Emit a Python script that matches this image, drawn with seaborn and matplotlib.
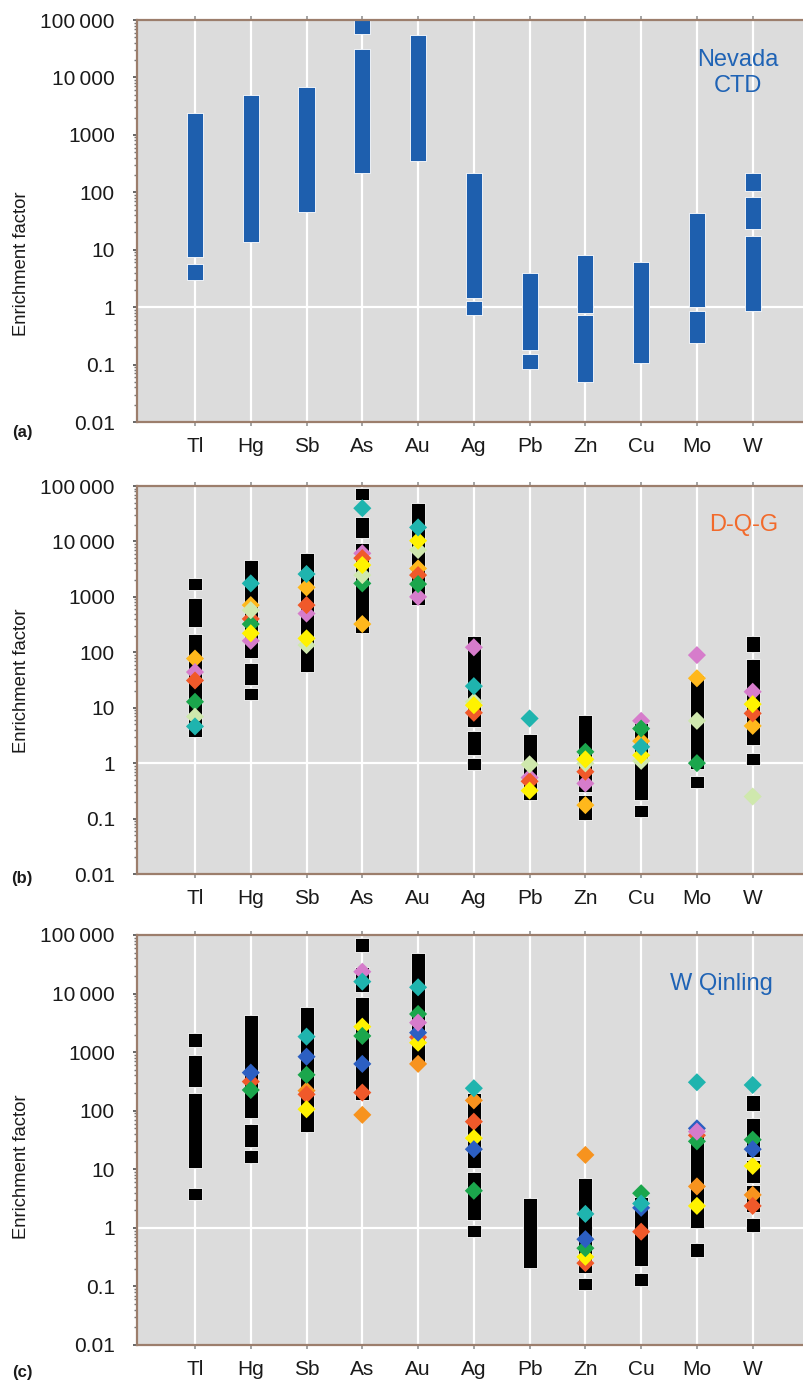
import matplotlib
matplotlib.use("Agg")
import matplotlib.pyplot as plt
from matplotlib.ticker import NullFormatter, LogLocator
import pandas as pd
import seaborn as sns

sns.set_theme(style="white")
plt.rcParams["font.family"] = ["Liberation Sans", "DejaVu Sans"]

ELEMENTS = ["Tl", "Hg", "Sb", "As", "Au", "Ag", "Pb", "Zn", "Cu", "Mo", "W"]
Y_TICKS = [0.01, 0.1, 1, 10, 100, 1000, 10000, 100000]
Y_TICK_LABELS = ["0.01", "0.1", "1", "10", "100", "1000", "10\u2009000", "100\u2009000"]

# ---- (a) Nevada CTD: enrichment ranges (segments) ----
nv_seg_elem = ["Tl", "Tl", "Hg", "Sb", "As", "As", "Au", "Ag", "Ag", "Pb", "Pb",
               "Zn", "Zn", "Cu", "Mo", "Mo", "W", "W", "W"]
nv_seg_low = [7.6, 3.0, 13.8, 44.8, 56000, 214, 355, 1.45, 0.73, 0.18, 0.083,
              0.78, 0.050, 0.105, 1.0, 0.24, 104, 22.6, 0.87]
nv_seg_high = [2370, 5.6, 4940, 6730, 100000, 30800, 54800, 219, 1.3, 3.88, 0.155,
               8.1, 0.72, 6.2, 43, 0.87, 219, 82, 17.3]

# ---- (b) D-Q-G: enrichment ranges ----
dqg_seg_elem = ["Tl", "Tl", "Tl", "Hg", "Hg", "Hg", "Sb", "As", "As", "As", "Au",
                "Ag", "Ag", "Ag", "Pb", "Zn", "Zn", "Cu", "Cu", "Mo", "Mo",
                "W", "W", "W"]
dqg_seg_low = [1320, 282, 3.0, 78, 25.6, 13.7, 44.5, 56000, 11400, 220, 710,
               4.5, 1.39, 0.75, 0.215, 0.30, 0.094, 0.215, 0.107, 0.80, 0.35,
               102, 2.1, 0.92]
dqg_seg_high = [2160, 940, 213, 4620, 63, 22.5, 6100, 91000, 28000, 9500, 48800,
                199, 3.8, 1.22, 3.4, 7.3, 0.264, 5.2, 0.175, 38.6, 0.58,
                199, 77, 1.54]

# ---- (b) D-Q-G: individual deposits (one value per element, None = no data) ----
dqg_gold = [77, 710, 1480, 323, 3250, None, None, 0.175, 2.5, 34, 4.7]
dqg_pink = [44, 161, 500, 6100, 1000, 123, 0.55, 0.43, 5.8, 89, 19.4]
dqg_red = [31, 400, 710, 5000, 2470, 8.1, 0.47, 0.70, None, None, 7.9]
dqg_green = [12.8, 323, None, 1750, 1700, None, None, 1.6, 4.2, 1.0, None]
dqg_pale = [6.9, 575, 135, 2470, 7000, 12.8, 0.95, 0.99, 1.1, 5.8, 0.25]
dqg_cyan = [4.6, 1750, 2580, 39700, 17900, 24.5, 6.4, None, 1.97, None, None]
dqg_yellow = [None, 220, 178, 3750, 10300, 11.1, 0.32, 1.17, 1.39, None, 11.6]

# ---- (c) W Qinling: enrichment ranges ----
wq_seg_elem = ["Tl", "Tl", "Tl", "Tl", "Hg", "Hg", "Hg", "Sb", "As", "As", "As", "Au",
               "Ag", "Ag", "Ag", "Pb", "Zn", "Zn", "Cu", "Cu", "Mo", "Mo",
               "W", "W", "W", "W", "W"]
wq_seg_low = [1240, 258, 10.4, 3.0, 74, 24.4, 12.7, 44, 52000, 10800, 153, 690,
              10.4, 1.37, 0.71, 0.205, 0.17, 0.087, 0.22, 0.10, 0.99, 0.32,
              97, 16.5, 5.8, 1.9, 0.86]
wq_seg_high = [2100, 900, 204, 4.75, 4300, 60, 21.4, 5840, 88000, 28700, 8850, 48600,
               200, 9.1, 1.12, 3.2, 7.0, 0.139, 3.4, 0.17, 41, 0.55,
               186, 74, 14.5, 5.4, 1.46]

# ---- (c) W Qinling: individual deposits ----
wq_cyan = [None, None, 1840, 16000, 12800, 242, None, 1.73, 2.6, 306, 275]
wq_blue = [None, 447, 836, 630, 2150, 22, None, 0.64, 2.2, 50, 22]
wq_green = [None, 226, 410, 1890, 4480, 4.3, None, 0.45, 3.9, 30, 32]
wq_orange = [None, None, 220, 85, 630, 150, None, 17.6, None, 5.1, 3.65]
wq_red = [None, 314, 190, 204, 1800, 65, None, 0.25, 0.86, 38, 2.37]
wq_yellow = [None, None, 106, 2720, 1450, 34, None, 0.32, None, 2.37, 11.4]
wq_pink = [None, None, None, 23600, 3190, None, None, None, None, 44, None]

COLORS = {
    "gold": "#ffb81c", "pink": "#d67ccb", "red": "#f0592a", "green": "#1ba64c",
    "pale": "#cfe8ad", "cyan": "#1fb4ae", "yellow": "#fff200", "blue": "#2c5fc2",
    "orange": "#f7931e",
}
BAR_BLUE = "#1e5fae"
SPINE = "#9c7e6c"
BG = "#dcdcdc"

FIG_W, FIG_H = 804, 1382
fig = plt.figure(figsize=(FIG_W / 100, FIG_H / 100), dpi=100)


def make_axes(top_px, bottom_px):
    left = 137 / FIG_W
    return fig.add_axes([left, 1 - bottom_px / FIG_H, 1.0 - left, (bottom_px - top_px) / FIG_H])


def style_axes(ax):
    ax.set_yscale("log")
    ax.set_ylim(0.01, 100000)
    ax.set_xlim(-1.04, 10.92)
    ax.set_facecolor(BG)
    ax.set_axisbelow(True)
    ax.set_xticks(range(len(ELEMENTS)))
    ax.set_xticklabels(ELEMENTS)
    ax.set_yticks(Y_TICKS)
    ax.set_yticklabels(Y_TICK_LABELS)
    ax.yaxis.set_minor_locator(LogLocator(base=10, subs=range(2, 10), numticks=20))
    ax.yaxis.set_minor_formatter(NullFormatter())
    ax.xaxis.grid(True, color="white", linewidth=1.6)
    ax.yaxis.grid(False)
    ax.axhline(1, color="white", linewidth=1.6, zorder=0.6)
    for side in ("top", "bottom", "left"):
        ax.spines[side].set_visible(True)
        ax.spines[side].set_color(SPINE)
        ax.spines[side].set_linewidth(1.6)
    ax.spines["right"].set_visible(False)
    ax.tick_params(axis="x", which="major", bottom=True, top=True, length=3,
                   color="#999999", labelsize=15, pad=8, labelcolor="#1a1a1a")
    ax.tick_params(axis="y", which="major", left=True, length=3, color="#555555",
                   labelsize=15, pad=13, labelcolor="#1a1a1a")
    ax.tick_params(axis="y", which="minor", left=True, length=2, color="#777777")
    ax.set_xlabel("")
    ax.set_ylabel("")


def draw_segments(ax, elems, lows, highs, color, width):
    pos = [ELEMENTS.index(e) for e in elems]
    heights = [h - l for l, h in zip(lows, highs)]
    ax.bar(pos, heights, bottom=lows, width=width, color=color,
           edgecolor="white", linewidth=0.6, zorder=2)


def draw_points(ax, series):
    rows = []
    for name, vals in series:
        for i, v in enumerate(vals):
            if v is not None:
                rows.append({"pos": i, "value": v, "series": name})
    df = pd.DataFrame(rows)
    sns.scatterplot(data=df, x="pos", y="value", hue="series",
                    hue_order=[n for n, _ in series],
                    palette={n: COLORS[n] for n, _ in series},
                    marker="D", s=85, linewidth=0, legend=False, ax=ax, zorder=3)
    ax.set_xlabel("")
    ax.set_ylabel("")


# (a)
ax_a = make_axes(20, 422)
style_axes(ax_a)
draw_segments(ax_a, nv_seg_elem, nv_seg_low, nv_seg_high, BAR_BLUE, 0.29)
ax_a.text(0.901, 0.868, "Nevada\nCTD", transform=ax_a.transAxes, ha="center",
          va="center", color="#1f63b5", fontsize=17, linespacing=1.2)

# (b)
ax_b = make_axes(486, 874)
style_axes(ax_b)
draw_segments(ax_b, dqg_seg_elem, dqg_seg_low, dqg_seg_high, "black", 0.25)
draw_points(ax_b, [("gold", dqg_gold), ("pink", dqg_pink), ("red", dqg_red),
                   ("green", dqg_green), ("pale", dqg_pale), ("yellow", dqg_yellow),
                   ("cyan", dqg_cyan)])
ax_b.text(0.909, 0.899, "D-Q-G", transform=ax_b.transAxes, ha="center",
          va="center", color="#f26a2b", fontsize=17)

# (c)
ax_c = make_axes(935, 1345)
style_axes(ax_c)
draw_segments(ax_c, wq_seg_elem, wq_seg_low, wq_seg_high, "black", 0.25)
draw_points(ax_c, [("orange", wq_orange), ("red", wq_red), ("yellow", wq_yellow),
                   ("green", wq_green), ("blue", wq_blue), ("pink", wq_pink),
                   ("cyan", wq_cyan)])
ax_c.text(0.876, 0.880, "W Qinling", transform=ax_c.transAxes, ha="center",
          va="center", color="#1f63b5", fontsize=17)

# shared labels
for y_px in (264, 681, 1167):
    fig.text(22 / FIG_W, 1 - y_px / FIG_H, "Enrichment factor", rotation=90,
             ha="center", va="center", fontsize=13.3, color="#1a1a1a")
for lbl, y_px in (("(a)", 432), ("(b)", 879), ("(c)", 1372)):
    fig.text(22 / FIG_W, 1 - y_px / FIG_H, lbl, ha="center", va="center",
             fontsize=12, fontweight="bold", color="#1a1a1a")

fig.savefig("out.png", dpi=100, facecolor="white")
